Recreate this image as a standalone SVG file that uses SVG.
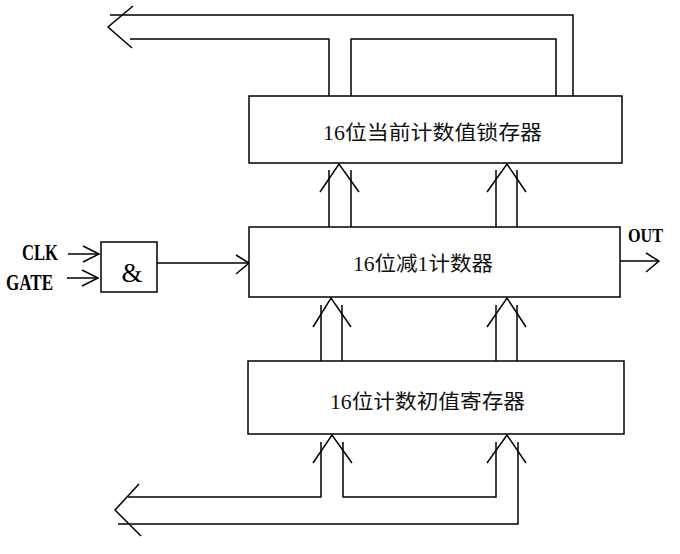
<svg xmlns="http://www.w3.org/2000/svg" width="680" height="554" viewBox="0 0 680 554">
<style>
.box{fill:#fff;stroke:#000;stroke-width:1.5}
.ln{fill:none;stroke:#000;stroke-width:1.5}
.cjk{font-family:"Liberation Serif","Noto Sans CJK SC",serif;font-size:20px;fill:#111}
.lab{font-family:"Liberation Serif",serif;font-weight:bold;font-size:23px;fill:#000}
</style>
<rect width="680" height="554" fill="#fff"/>
<g id="connectors">
<!-- top output bus -->
<polyline class="ln" points="110,15 573,15 573,96"/>
<polyline class="ln" points="130,39 329,39 329,96"/>
<polyline class="ln" points="351,96 351,39 556,39 556,96"/>
<polyline class="ln" points="133,6 108,27 132,48"/>
<!-- middle to top -->
<line class="ln" x1="329" y1="227" x2="329" y2="170"/>
<line class="ln" x1="351" y1="227" x2="351" y2="170"/>
<polyline class="ln" points="320,192 339,164 359,192"/>
<line class="ln" x1="496" y1="227" x2="496" y2="170"/>
<line class="ln" x1="517" y1="227" x2="517" y2="170"/>
<polyline class="ln" points="487,192 507,164 526,192"/>
<!-- bottom to middle -->
<line class="ln" x1="321" y1="361" x2="321" y2="305"/>
<line class="ln" x1="342" y1="361" x2="342" y2="305"/>
<polyline class="ln" points="313,327 331,298 351,327"/>
<line class="ln" x1="496" y1="361" x2="496" y2="305"/>
<line class="ln" x1="517" y1="361" x2="517" y2="305"/>
<polyline class="ln" points="487,327 507,298 526,327"/>
<!-- bottom input bus -->
<polyline class="ln" points="128,497 321,497 321,442"/>
<polyline class="ln" points="343,442 343,497 496,497 496,442"/>
<polyline class="ln" points="118,524 518,524 518,442"/>
<polyline class="ln" points="313,463 332,435 352,463"/>
<polyline class="ln" points="487,463 507,435 526,463"/>
<polyline class="ln" points="139,484 115,510 141,536"/>
<!-- CLK / GATE -->
<line class="ln" x1="68" y1="254" x2="99" y2="254"/>
<polyline class="ln" points="83,246 99,254 83,262"/>
<line class="ln" x1="67" y1="278" x2="98" y2="278"/>
<polyline class="ln" points="82,270 98,278 82,286"/>
<!-- AND to counter -->
<line class="ln" x1="157" y1="263" x2="249" y2="263"/>
<polyline class="ln" points="236,255 249,263 236,274"/>
<!-- OUT -->
<line class="ln" x1="620" y1="261" x2="659" y2="261"/>
<polyline class="ln" points="646,253 659,261 646,272"/>
</g>
<g id="latch">
<rect class="box" x="249" y="96" width="373" height="67"/>
<text class="cjk" x="323" y="140" textLength="219" lengthAdjust="spacingAndGlyphs">16位当前计数值锁存器</text>
</g>
<g id="counter">
<rect class="box" x="249" y="227" width="371" height="70"/>
<text class="cjk" x="353" y="271" textLength="140" lengthAdjust="spacingAndGlyphs">16位减1计数器</text>
</g>
<g id="initreg">
<rect class="box" x="248" y="361" width="376" height="73"/>
<text class="cjk" x="330" y="409" textLength="195" lengthAdjust="spacingAndGlyphs">16位计数初值寄存器</text>
</g>
<g id="andgate">
<rect class="box" x="101" y="242" width="56" height="50"/>
<text x="132" y="282" text-anchor="middle" style="font-family:'Liberation Serif',serif;font-size:27px">&amp;</text>
</g>
<g id="labels">
<text class="lab" x="22" y="260" textLength="36" lengthAdjust="spacingAndGlyphs">CLK</text>
<text class="lab" x="6" y="290" textLength="47" lengthAdjust="spacingAndGlyphs">GATE</text>
<text class="lab" x="628" y="242" style="font-size:18px" textLength="35" lengthAdjust="spacingAndGlyphs">OUT</text>
</g>
</svg>
